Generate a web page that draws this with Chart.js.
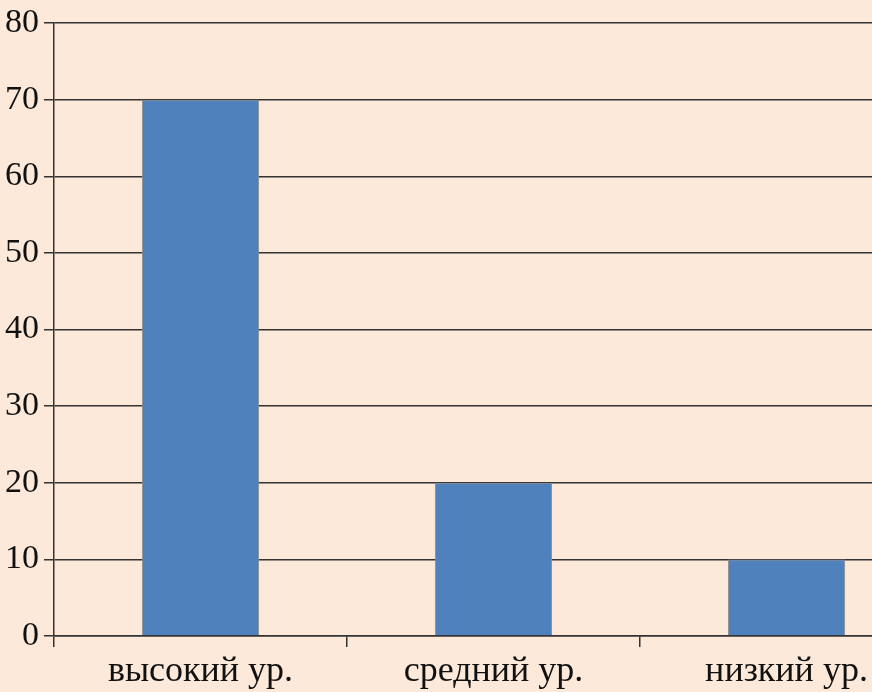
<!DOCTYPE html>
<html>
<head>
<meta charset="utf-8">
<script src="https://cdn.jsdelivr.net/npm/chart.js@4/dist/chart.umd.min.js"></script>
<style>
  html, body { margin: 0; padding: 0; overflow: hidden; background: #fce9da; }
  #wrap { width: 940px; height: 692px; position: relative; }
</style>
</head>
<body>
<div id="wrap"><canvas id="chart"></canvas></div>
<script>
const categories = ['высокий ур.', 'средний ур.', 'низкий ур.']
const values = [70, 20, 10]
const yTicks = [0, 10, 20, 30, 40, 50, 60, 70, 80]

const lineColor = '#333333'
const family = '"Liberation Serif", "Times New Roman", serif'

const config = {
  type: 'bar',
  data: {
    labels: categories,
    datasets: [{
      data: values,
      backgroundColor: '#4f81bd',
      borderColor: '#8c8c8c',
      borderWidth: 1,
      barPercentage: 0.4,
      categoryPercentage: 1
    }]
  },
  options: {
    responsive: true,
    maintainAspectRatio: false,
    animation: false,
    layout: { padding: { top: 23, right: 7, left: 0, bottom: 0 } },
    plugins: { legend: { display: false }, tooltip: { enabled: false } },
    scales: {
      x: {
        offset: true,
        grid: {
          offset: true,
          drawOnChartArea: false,
          drawTicks: true,
          tickLength: 11,
          color: lineColor,
          lineWidth: 1.5
        },
        border: { color: lineColor, width: 1.5 },
        ticks: { color: '#111', font: { family, size: 36 }, padding: 3, maxRotation: 0, autoSkip: false },
        afterFit: (scale) => { scale.height = 56 }
      },
      y: {
        min: 0,
        max: 80,
        afterBuildTicks: (scale) => { scale.ticks = yTicks.map(v => ({ value: v })) },
        grid: { color: lineColor, lineWidth: 1.5, tickLength: 10 },
        border: { color: lineColor, width: 1.5 },
        ticks: { color: '#111', font: { family, size: 34, lineHeight: 1 }, padding: 5 },
        afterFit: (scale) => { scale.width = 54 }
      }
    }
  }
}

new Chart(document.getElementById('chart').getContext('2d'), config)
</script>
</body>
</html>
